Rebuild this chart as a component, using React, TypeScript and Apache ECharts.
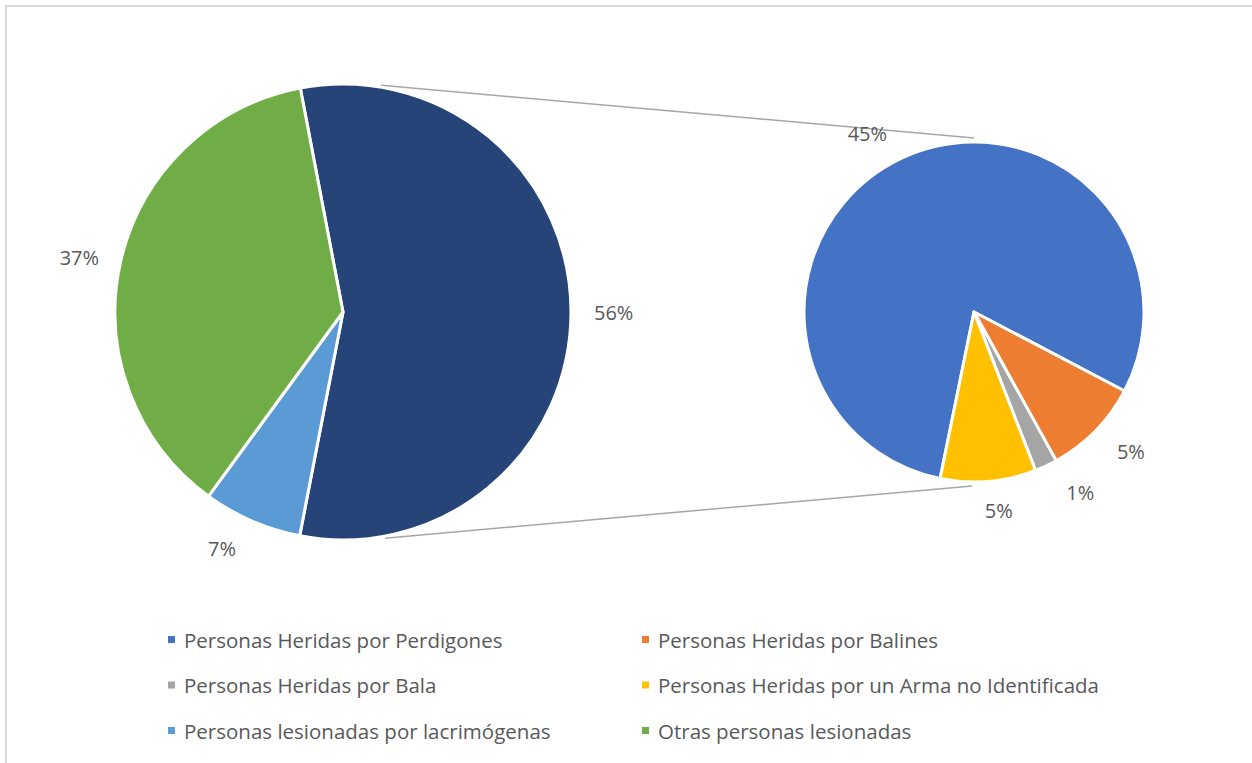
import React, { useEffect, useRef } from "react";
import * as echarts from "echarts";

const primaryNames = ["Otro", "Personas lesionadas por lacrimógenas", "Otras personas lesionadas"];
const secondaryNames = [
  "Personas Heridas por Perdigones",
  "Personas Heridas por Balines",
  "Personas Heridas por Bala",
  "Personas Heridas por un Arma no Identificada",
];
const secondaryValues = [44.6, 5.2, 1.2, 5.1];
const primaryOwnValues = [7, 37];

const legendLeft = [
  "Personas Heridas por Perdigones",
  "Personas Heridas por Bala",
  "Personas lesionadas por lacrimógenas",
];
const legendRight = [
  "Personas Heridas por Balines",
  "Personas Heridas por un Arma no Identificada",
  "Otras personas lesionadas",
];

const primaryColors = ["#264478", "#5b9bd5", "#70ad47"];
const secondaryColors = ["#4472c4", "#ed7d31", "#a5a5a5", "#ffc000"];

// label offsets [length, length2, distance]
const primaryLabelOffsets = [
  [14, 5, 4],
  [30, 0, 4],
  [20, 0, 2],
];
const secondaryLabelOffsets = [
  [28, 0, 2],
  [30, 0, 0],
  [29, 0, 8],
  [29, 0, -6],
];

const FONT = "'Open Sans', 'Noto Sans', sans-serif";
const TEXT = "#595959";

export default function App() {
  const ref = useRef<HTMLDivElement>(null);
  useEffect(() => {
    if (!ref.current) return;
    const chart = echarts.init(ref.current, undefined, { renderer: "svg" });
    const otherSum = secondaryValues.reduce((a, b) => a + b, 0);
    const primaryValues = [otherSum, ...primaryOwnValues];
    const total = primaryValues.reduce((a, b) => a + b, 0);

    const C1 = [343, 312];
    const R1 = 228;
    const C2 = [974, 312];
    const R2 = 170;

    const fmt = (p: any) => Math.round((p.value / total) * 100) + "%";

    const mk = (names: string[], values: number[], colors: string[], offs: number[][]) =>
      names.map((n, i) => ({
        name: n,
        value: values[i],
        itemStyle: { color: colors[i] },
        labelLine: { show: false, length: offs[i][0], length2: offs[i][1] },
        label: { distanceToLabelLine: offs[i][2] },
      }));

    const a1 = (9.5 * Math.PI) / 180;
    const a2 = (169.5 * Math.PI) / 180;
    const lineStyle = { stroke: "#a6a6a6", lineWidth: 1.5 };

    const legendCommon = {
      orient: "vertical",
      top: 624,
      icon: "rect",
      itemWidth: 9,
      itemHeight: 9,
      itemGap: 24.5,
      selectedMode: false,
      textStyle: { color: TEXT, fontSize: 20.5, fontFamily: FONT, lineHeight: 20, padding: [0, 0, 0, 3] },
    };

    chart.setOption({
      animation: false,
      backgroundColor: "#fff",
      textStyle: { fontFamily: FONT },
      legend: [
        { ...legendCommon, data: legendLeft, left: 161 },
        { ...legendCommon, data: legendRight, left: 635 },
      ],
      graphic: [
        {
          type: "rect",
          shape: { x: 6, y: 6, width: 1400, height: 900 },
          style: { fill: "none", stroke: "#d9d9d9", lineWidth: 2 },
          silent: true,
        },
        {
          type: "line",
          shape: {
            x1: C1[0] + (R1 + 2) * Math.sin(a1),
            y1: C1[1] - (R1 + 2) * Math.cos(a1),
            x2: C2[0],
            y2: C2[1] - R2 - 4,
          },
          style: lineStyle,
          silent: true,
        },
        {
          type: "line",
          shape: {
            x1: C1[0] + (R1 + 2) * Math.sin(a2),
            y1: C1[1] - (R1 + 2) * Math.cos(a2),
            x2: C2[0] - 2,
            y2: C2[1] + R2 + 4,
          },
          style: lineStyle,
          silent: true,
        },
      ],
      series: [
        {
          type: "pie",
          center: C1,
          radius: R1,
          startAngle: 100.8,
          avoidLabelOverlap: false,
          silent: true,
          itemStyle: { borderColor: "#fff", borderWidth: 3 },
          label: { show: true, position: "outside", formatter: fmt, color: TEXT, fontSize: 20, fontFamily: FONT },
          labelLine: { show: false },
          data: mk(primaryNames, primaryValues, primaryColors, primaryLabelOffsets),
        },
        {
          type: "pie",
          center: C2,
          radius: R2,
          startAngle: 258.5,
          avoidLabelOverlap: false,
          silent: true,
          itemStyle: { borderColor: "#fff", borderWidth: 3 },
          label: { show: true, position: "outside", formatter: fmt, color: TEXT, fontSize: 20, fontFamily: FONT },
          labelLine: { show: false },
          data: mk(secondaryNames, secondaryValues, secondaryColors, secondaryLabelOffsets),
        },
      ],
    });
    return () => chart.dispose();
  }, []);
  return (
    <div
      ref={ref}
      style={{ position: "fixed", left: 0, top: 0, width: 1252, height: 763 }}
    />
  );
}
